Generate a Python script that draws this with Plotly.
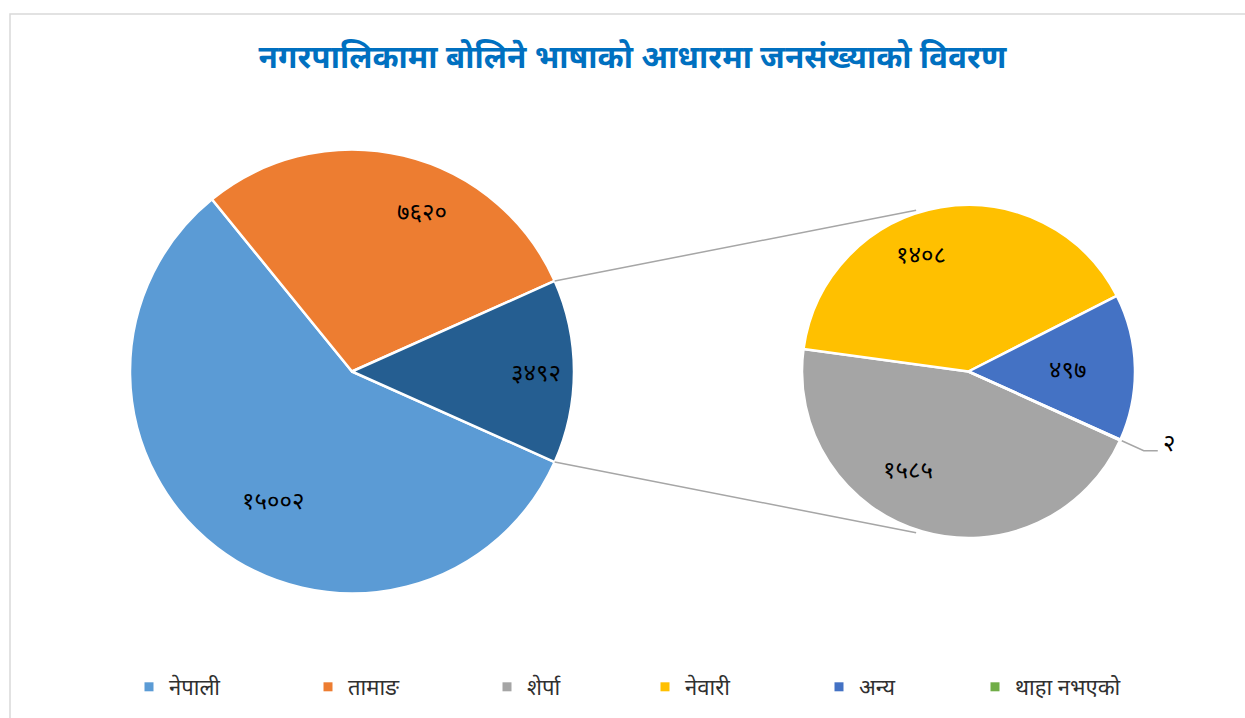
import math
import plotly.graph_objects as go

# ---------------- data ----------------
title_text = "नगरपालिकामा बोलिने भाषाको आधारमा जनसंख्याको विवरण"

main_labels = ["नेपाली", "तामाङ", "अन्य भाषा"]
main_values = [15002, 7620, 3492]
main_text = ["१५००२", "७६२०", "३४९२"]

sec_labels = ["शेर्पा", "नेवारी", "अन्य", "थाहा नभएको"]
sec_values = [1585, 1408, 497, 2]
sec_text = ["१५८५", "१४०८", "४९७", "२"]

legend_labels = ["नेपाली", "तामाङ", "शेर्पा", "नेवारी", "अन्य", "थाहा नभएको"]

# ---------------- style ----------------
W, H = 1245, 718
FONT = "Noto Sans, sans-serif"
main_colors = ["#5B9BD5", "#ED7D31", "#255E91"]
sec_colors = ["#A5A5A5", "#FFC000", "#4472C4", "#70AD47"]
legend_colors = ["#5B9BD5", "#ED7D31", "#A5A5A5", "#FFC000", "#4472C4", "#70AD47"]
legend_px = [150, 329, 508, 666, 840, 996]   # legend marker x positions (px)

# pie geometry (pixels)
mc, mr, mrot = (352, 371.5), 222, 114.07
sc, sr, srot = (968.5, 371.5), 166.5, 114.4


def dom(c, r):
    return dict(x=[(c[0] - r) / W, (c[0] + r) / W],
                y=[1 - (c[1] + r) / H, 1 - (c[1] - r) / H])


def px(x, y):
    return x / W, 1 - y / H


def mid_points(values, c, r, rot, frac):
    tot = sum(values)
    cum = 0
    pts = []
    for v in values:
        a = math.radians(rot + 360 * (cum + v / 2) / tot)
        pts.append((c[0] + frac * r * math.sin(a), c[1] - frac * r * math.cos(a)))
        cum += v
    return pts


fig = go.Figure()
fig.add_trace(go.Pie(
    labels=main_labels, values=main_values, textinfo="none",
    marker=dict(colors=main_colors, line=dict(color="white", width=2.5)),
    sort=False, direction="clockwise", rotation=mrot,
    domain=dom(mc, mr), showlegend=False, hoverinfo="label+value",
))
fig.add_trace(go.Pie(
    labels=sec_labels, values=sec_values, textinfo="none",
    marker=dict(colors=sec_colors, line=dict(color="white", width=2.5)),
    sort=False, direction="clockwise", rotation=srot,
    domain=dom(sc, sr), showlegend=False, hoverinfo="label+value",
))

# legend entries (one small legend each, to mimic Excel spacing)
legends = {}
for i, (name, col, lx) in enumerate(zip(legend_labels, legend_colors, legend_px)):
    key = "legend" if i == 0 else f"legend{i + 1}"
    fig.add_trace(go.Scatter(x=[None], y=[None], mode="markers", name=name,
                             legend=key,
                             marker=dict(symbol="square", size=9, color=col)))
    legends[key] = dict(orientation="h", x=(lx - 21) / W, xanchor="left",
                        y=1 - 687 / H, yanchor="middle",
                        bgcolor="rgba(0,0,0,0)",
                        font=dict(family=FONT, size=22, color="#303030"))

# data labels
annotations = []
lab_font = dict(family=FONT, size=24, color="black")
for (x, y), t in zip(mid_points(main_values, mc, mr, mrot, 0.83), main_text):
    xx, yy = px(x, y)
    annotations.append(dict(x=xx, y=yy, xref="paper", yref="paper", text=t,
                            showarrow=False, font=lab_font))
spts = mid_points(sec_values, sc, sr, srot, 0.72)
for (x, y), t in list(zip(spts, sec_text))[:3]:
    xx, yy = px(x, y)
    annotations.append(dict(x=xx, y=yy, xref="paper", yref="paper", text=t,
                            showarrow=False, font=lab_font))

# outside label for the tiny slice with an elbow leader line
edge = mid_points(sec_values, sc, sr, srot, 1.01)[3]
elbow = (edge[0] + 22, edge[1] + 10)
tail = (elbow[0] + 14, elbow[1])
lx, ly = px(tail[0] + 3, tail[1] - 9)
annotations.append(dict(x=lx, y=ly, xref="paper", yref="paper", text=sec_text[3],
                        xanchor="left", showarrow=False, font=lab_font))

shapes = []
p0, p1, p2 = px(*edge), px(*elbow), px(*tail)
shapes.append(dict(type="path", xref="paper", yref="paper",
                   path=f"M {p0[0]} {p0[1]} L {p1[0]} {p1[1]} L {p2[0]} {p2[1]}",
                   line=dict(color="#A6A6A6", width=1.5)))

# connector lines between the pies
half = math.pi * main_values[2] / sum(main_values)
for sgn in (1, -1):
    x0 = mc[0] + mr * math.cos(half)
    y0 = mc[1] - sgn * mr * math.sin(half)
    ang = math.radians(108)
    x1 = sc[0] + (sr + 3) * math.cos(ang)
    y1 = sc[1] - sgn * (sr + 3) * math.sin(ang)
    a, b = px(x0, y0), px(x1, y1)
    shapes.append(dict(type="line", xref="paper", yref="paper",
                       x0=a[0], y0=a[1], x1=b[0], y1=b[1],
                       line=dict(color="#A6A6A6", width=1.5)))
# chart frame
shapes.append(dict(type="rect", xref="paper", yref="paper",
                   x0=10 / W, y0=-0.05, x1=1.05, y1=1 - 14 / H,
                   line=dict(color="#D9D9D9", width=1.5)))

fig.update_layout(
    width=W, height=H,
    margin=dict(l=0, r=0, t=0, b=0),
    paper_bgcolor="white", plot_bgcolor="white",
    title=dict(text="<b>" + title_text + "</b>", x=0.508, xanchor="center",
               y=1 - 57 / H, yanchor="middle",
               font=dict(family=FONT, size=31.5, color="#0070C0")),
    xaxis=dict(visible=False), yaxis=dict(visible=False),
    shapes=shapes, annotations=annotations,
    **legends,
)

fig.write_html("out.html", config={"displayModeBar": False},
               post_script="document.body.style.margin='0';document.body.style.overflow='hidden';")
